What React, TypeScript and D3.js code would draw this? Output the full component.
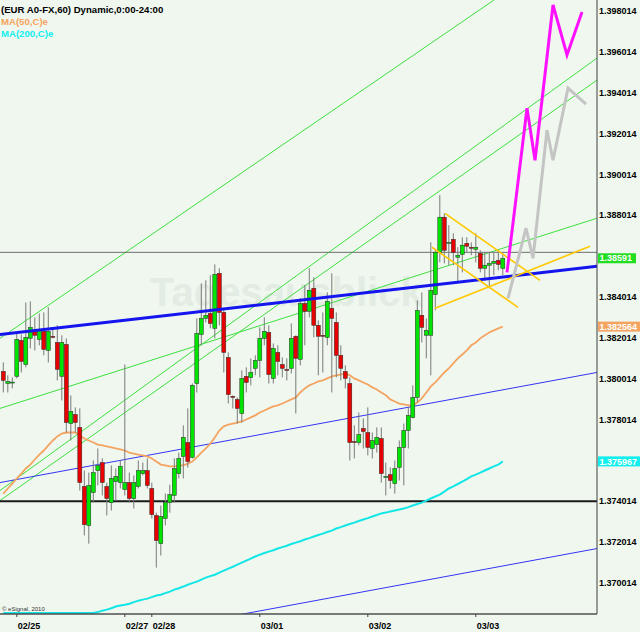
import React from 'react';
import * as d3 from 'd3';

// ---- data (EUR A0-FX, 60 min) ----
// [open, high, low, close]
const candles: [number, number, number, number][] = [
  [1.38037, 1.38081, 1.37934, 1.37993], [1.37978, 1.38018, 1.37934, 1.37988], [1.37983, 1.38008, 1.37954, 1.37985],
  [1.38013, 1.38223, 1.38003, 1.38194], [1.38189, 1.38218, 1.38032, 1.38086], [1.38071, 1.38375, 1.38057, 1.38204],
  [1.38199, 1.38380, 1.38150, 1.38253], [1.38238, 1.38302, 1.38140, 1.38214], [1.38194, 1.38321, 1.38165, 1.38243],
  [1.38233, 1.38326, 1.38116, 1.38145], [1.38140, 1.38351, 1.38081, 1.38233], [1.38209, 1.38253, 1.38199, 1.38204],
  [1.38179, 1.38263, 1.37993, 1.38047], [1.38013, 1.38214, 1.37895, 1.38179], [1.38169, 1.38199, 1.37738, 1.37787],
  [1.37782, 1.37920, 1.37699, 1.37841], [1.37826, 1.37861, 1.37738, 1.37787], [1.37763, 1.37856, 1.37454, 1.37493],
  [1.37474, 1.37552, 1.37234, 1.37287], [1.37283, 1.37542, 1.37194, 1.37479], [1.37444, 1.37601, 1.37395, 1.37542],
  [1.37552, 1.37660, 1.37479, 1.37577], [1.37591, 1.37611, 1.37430, 1.37493], [1.37474, 1.37493, 1.37332, 1.37415],
  [1.37395, 1.37577, 1.37356, 1.37513], [1.37498, 1.37562, 1.37405, 1.37523], [1.37493, 1.37601, 1.37464, 1.37572],
  [1.37459, 1.38071, 1.37430, 1.37493], [1.37493, 1.37542, 1.37395, 1.37415], [1.37415, 1.37528, 1.37366, 1.37493],
  [1.37474, 1.37601, 1.37464, 1.37552], [1.37537, 1.37591, 1.37528, 1.37552], [1.37552, 1.37611, 1.37464, 1.37479],
  [1.37464, 1.37493, 1.37317, 1.37336], [1.37332, 1.37346, 1.37077, 1.37209], [1.37194, 1.37381, 1.37136, 1.37327],
  [1.37317, 1.37439, 1.37283, 1.37395], [1.37395, 1.37483, 1.37346, 1.37434], [1.37430, 1.37611, 1.37395, 1.37562],
  [1.37537, 1.37640, 1.37513, 1.37611], [1.37621, 1.37773, 1.37513, 1.37714], [1.37689, 1.37856, 1.37567, 1.37596],
  [1.37616, 1.37978, 1.37611, 1.37969], [1.37978, 1.38297, 1.37934, 1.38223], [1.38218, 1.38468, 1.38165, 1.38297],
  [1.38297, 1.38483, 1.38277, 1.38312], [1.38321, 1.38508, 1.38248, 1.38272], [1.38248, 1.38561, 1.38199, 1.38512],
  [1.38517, 1.38542, 1.38263, 1.38326], [1.38326, 1.38346, 1.38032, 1.38130], [1.38106, 1.38130, 1.37880, 1.37924],
  [1.37915, 1.37920, 1.37856, 1.37910], [1.37900, 1.37910, 1.37782, 1.37856], [1.37831, 1.38042, 1.37787, 1.38003],
  [1.38013, 1.38057, 1.37934, 1.37983], [1.38008, 1.38101, 1.37969, 1.38032], [1.38052, 1.38116, 1.38018, 1.38091],
  [1.38091, 1.38253, 1.38008, 1.38199], [1.38199, 1.38302, 1.38165, 1.38233], [1.38228, 1.38263, 1.37978, 1.38022],
  [1.38003, 1.38174, 1.37978, 1.38150], [1.38130, 1.38165, 1.38018, 1.38086], [1.38071, 1.38106, 1.38008, 1.38052],
  [1.38047, 1.38101, 1.37993, 1.38042], [1.38052, 1.38272, 1.38027, 1.38199], [1.38209, 1.38214, 1.37831, 1.38101],
  [1.38096, 1.38395, 1.38067, 1.38370], [1.38370, 1.38459, 1.38165, 1.38331], [1.38331, 1.38542, 1.38302, 1.38434],
  [1.38444, 1.38498, 1.38204, 1.38263], [1.38263, 1.38287, 1.38018, 1.38209], [1.38214, 1.38326, 1.38032, 1.38209],
  [1.38204, 1.38424, 1.38165, 1.38380], [1.38346, 1.38517, 1.37934, 1.38297], [1.38277, 1.38326, 1.38008, 1.38116],
  [1.38116, 1.38165, 1.37993, 1.38052], [1.38037, 1.38067, 1.37954, 1.38003], [1.37978, 1.38008, 1.37601, 1.37689],
  [1.37694, 1.37773, 1.37611, 1.37689], [1.37689, 1.37836, 1.37675, 1.37728], [1.37758, 1.37807, 1.37660, 1.37743],
  [1.37738, 1.37861, 1.37626, 1.37665], [1.37660, 1.37738, 1.37611, 1.37699], [1.37679, 1.37763, 1.37640, 1.37714],
  [1.37709, 1.37763, 1.37493, 1.37537], [1.37518, 1.37591, 1.37430, 1.37523], [1.37532, 1.37567, 1.37464, 1.37503],
  [1.37488, 1.37601, 1.37439, 1.37562], [1.37567, 1.37699, 1.37503, 1.37665], [1.37665, 1.37782, 1.37479, 1.37748],
  [1.37748, 1.37861, 1.37660, 1.37822], [1.37812, 1.37969, 1.37807, 1.37910], [1.37910, 1.38385, 1.37885, 1.38336],
  [1.38312, 1.38424, 1.38179, 1.38253], [1.38214, 1.38297, 1.38101, 1.38238], [1.38214, 1.38669, 1.38018, 1.38434],
  [1.38414, 1.38630, 1.38336, 1.38620], [1.38620, 1.38900, 1.38571, 1.38792], [1.38792, 1.38811, 1.38566, 1.38630],
  [1.38664, 1.38753, 1.38557, 1.38669], [1.38684, 1.38713, 1.38557, 1.38620], [1.38596, 1.38645, 1.38468, 1.38606],
  [1.38610, 1.38694, 1.38522, 1.38655], [1.38664, 1.38694, 1.38620, 1.38650], [1.38645, 1.38669, 1.38606, 1.38640],
  [1.38635, 1.38713, 1.38571, 1.38645], [1.38615, 1.38630, 1.38522, 1.38542], [1.38542, 1.38620, 1.38483, 1.38557],
  [1.38557, 1.38620, 1.38444, 1.38566], [1.38566, 1.38620, 1.38508, 1.38576], [1.38581, 1.38630, 1.38532, 1.38561],
  [1.38542, 1.38615, 1.38508, 1.38591],
];

const ma50: number[] = [
  1.37439, 1.37464, 1.37488, 1.37513, 1.37537, 1.37562, 1.37581, 1.37606, 1.37630, 1.37650, 1.37675, 1.37699,
  1.37719, 1.37733, 1.37738, 1.37738, 1.37738, 1.37724, 1.37709, 1.37699, 1.37689, 1.37679, 1.37675, 1.37670,
  1.37665, 1.37660, 1.37655, 1.37650, 1.37640, 1.37635, 1.37630, 1.37626, 1.37621, 1.37611, 1.37596, 1.37581,
  1.37577, 1.37572, 1.37572, 1.37577, 1.37577, 1.37586, 1.37596, 1.37616, 1.37640, 1.37660, 1.37684, 1.37714,
  1.37748, 1.37768, 1.37777, 1.37782, 1.37787, 1.37792, 1.37802, 1.37812, 1.37822, 1.37836, 1.37846, 1.37856,
  1.37866, 1.37871, 1.37880, 1.37890, 1.37900, 1.37910, 1.37934, 1.37954, 1.37969, 1.37978, 1.37988, 1.37993,
  1.38003, 1.38013, 1.38018, 1.38022, 1.38027, 1.38018, 1.38003, 1.37993, 1.37983, 1.37973, 1.37959, 1.37949,
  1.37934, 1.37920, 1.37900, 1.37890, 1.37880, 1.37876, 1.37871, 1.37871, 1.37885, 1.37905, 1.37934, 1.37964,
  1.37983, 1.38008, 1.38032, 1.38052, 1.38076, 1.38101, 1.38120, 1.38140, 1.38165, 1.38179, 1.38199, 1.38214,
  1.38228, 1.38238, 1.38248, 1.38256,
];

const ma200: number[] = [
  1.36840, 1.36840, 1.36840, 1.36840, 1.36840, 1.36840, 1.36840, 1.36840, 1.36840, 1.36840, 1.36840, 1.36840,
  1.36840, 1.36840, 1.36840, 1.36840, 1.36840, 1.36840, 1.36840, 1.36846, 1.36851, 1.36859, 1.36866, 1.36871,
  1.36878, 1.36886, 1.36891, 1.36895, 1.36900, 1.36908, 1.36915, 1.36920, 1.36925, 1.36932, 1.36940, 1.36944,
  1.36952, 1.36959, 1.36969, 1.36976, 1.36984, 1.36993, 1.37001, 1.37008, 1.37018, 1.37028, 1.37035, 1.37042,
  1.37052, 1.37062, 1.37072, 1.37081, 1.37091, 1.37101, 1.37111, 1.37121, 1.37131, 1.37140, 1.37148, 1.37155,
  1.37162, 1.37170, 1.37177, 1.37184, 1.37192, 1.37199, 1.37206, 1.37214, 1.37221, 1.37229, 1.37236, 1.37243,
  1.37251, 1.37258, 1.37268, 1.37275, 1.37283, 1.37290, 1.37297, 1.37305, 1.37312, 1.37319, 1.37327, 1.37334,
  1.37342, 1.37346, 1.37351, 1.37356, 1.37361, 1.37366, 1.37373, 1.37381, 1.37388, 1.37395, 1.37405, 1.37415,
  1.37425, 1.37434, 1.37449, 1.37464, 1.37474, 1.37486, 1.37498, 1.37510, 1.37523, 1.37532, 1.37542, 1.37552,
  1.37562, 1.37572, 1.37581, 1.37597,
];

const priceTicks = [1.398014, 1.396014, 1.394014, 1.392014, 1.390014, 1.388014, 1.384014, 1.382014, 1.380014, 1.378014, 1.374014, 1.372014, 1.370014];
const dateLabels = ['02/25', '02/27', '02/28', '03/01', '03/02', '03/03'];
const dateTickIndex = [3, 27, 33, 57, 81, 105];

// trendlines: [startIndex, startPrice, endIndex, endPrice]
const blueThick: number[] = [-0.733, 1.38218, 131.93, 1.38552];
const blueThin: number[][] = [
  [-0.733, 1.37493, 131.93, 1.38032],
  [52.38, 1.36846, 131.93, 1.37170],
];
const greenLines: number[][] = [
  [-0.733, 1.38199, 109.04, 1.39855],
  [-0.733, 1.37856, 131.93, 1.38787],
  [-0.733, 1.37454, 131.93, 1.39571],
  [-0.733, 1.37405, 131.93, 1.39463],
];
const yellowLines: number[][] = [
  [98.16, 1.38811, 119.27, 1.38483],
  [95.27, 1.38645, 114.38, 1.38351],
  [95.93, 1.38346, 130.38, 1.38650],
];
const grayLevel = 1.38620;
const blackLevel = 1.374014;

// forecast paths: [index, price]
const magentaPath: [number, number][] = [
  [111.93, 1.38522], [116.38, 1.39326], [118.16, 1.39071], [122.16, 1.39831], [125.27, 1.39586], [128.6, 1.39796],
];
const grayPath: [number, number][] = [
  [112.16, 1.38395], [116.16, 1.38738], [117.71, 1.38591], [120.82, 1.39218], [122.16, 1.39071],
  [125.49, 1.39424], [129.49, 1.39345],
];

const lastPrice = { value: 1.38591, text: '1.38591', bg: '#22dd22' };
const ma50Last = { value: 1.382564, text: '1.382564', bg: '#f4a460' };
const ma200Last = { value: 1.375967, text: '1.375967', bg: '#11eeee' };

const W = 640, H = 632, PR = 597, PB = 614;
const FONT = '"Liberation Sans", Arial, sans-serif';

export default function App() {
  const x = d3.scaleLinear().domain([0, 111]).range([3.3, 502.8]);
  const y = d3.scaleLinear().domain([1.370014, 1.398014]).range([583, 11]);
  const seg = (l: number[]) => ({ x1: x(l[0]), y1: y(l[1]), x2: x(l[2]), y2: y(l[3]) });
  const path = d3.line<[number, number]>().x(d => x(d[0])).y(d => y(d[1]));
  const maLine = d3.line<number>().x((_, i) => x(i)).y(v => Math.min(y(v), PB - 1));

  const bg = '#eff7ef';

  return (
    <svg width={W} height={H} style={{ position: 'absolute', left: 0, top: 0 }} fontFamily={FONT}>
      <defs>
        <clipPath id="plot"><rect x={0} y={0} width={PR} height={PB} /></clipPath>
      </defs>
      <rect x={0} y={0} width={W} height={H} fill={bg} />
      <text x={150} y={306} fontSize={40} fontWeight="bold" fill="#e3ece3">Tagesausblick</text>
      <g clipPath="url(#plot)">
        {greenLines.map((l, i) => <line key={'g' + i} {...seg(l)} stroke="#3ee03e" strokeWidth={1} />)}
        {blueThin.map((l, i) => <line key={'b' + i} {...seg(l)} stroke="#3434f4" strokeWidth={1} />)}
        <line x1={0} x2={PR} y1={y(grayLevel)} y2={y(grayLevel)} stroke="#6e6e6e" strokeWidth={1} />
        <line x1={0} x2={PR} y1={y(blackLevel)} y2={y(blackLevel)} stroke="#1a1a1a" strokeWidth={2} />
        <path d={maLine(ma200) || ''} fill="none" stroke="#12e6e6" strokeWidth={2} />
        <path d={maLine(ma50) || ''} fill="none" stroke="#f4a460" strokeWidth={1.8} />
        {candles.map((c, i) => {
          const [o, h, l, cl] = c;
          const cx = x(i);
          const up = cl >= o;
          const top = y(Math.max(o, cl));
          const bot = y(Math.min(o, cl));
          return (
            <g key={'c' + i}>
              <line x1={cx} x2={cx} y1={y(h)} y2={y(l)} stroke="#7a7a7a" strokeWidth={1} />
              <rect x={cx - 2} y={top} width={4} height={Math.max(1, bot - top)}
                fill={up ? '#00e400' : '#e80000'} stroke="#2a2a2a" strokeWidth={0.5} />
            </g>
          );
        })}
        <line {...seg(blueThick)} stroke="#1414ee" strokeWidth={3} />
        {yellowLines.map((l, i) => <line key={'y' + i} {...seg(l)} stroke="#ffc800" strokeWidth={1.6} />)}
        <path d={path(grayPath) || ''} fill="none" stroke="#c4c4c4" strokeWidth={3} />
        <path d={path(magentaPath) || ''} fill="none" stroke="#ff10ff" strokeWidth={3} />
      </g>
      {/* frame */}
      <line x1={PR} x2={PR} y1={0} y2={PB} stroke="#404040" strokeWidth={1} />
      <line x1={0} x2={PR} y1={PB} y2={PB} stroke="#505050" strokeWidth={1.5} />
      {/* header */}
      <text x={1} y={13} fontSize={9.6} fontWeight="bold" fill="#000">(EUR A0-FX,60) Dynamic,0:00-24:00</text>
      <text x={1} y={25} fontSize={9.6} fontWeight="bold" fill="#f4a460">MA(50,C)e</text>
      <text x={1} y={37} fontSize={9.6} fontWeight="bold" fill="#11eeee">MA(200,C)e</text>
      <text x={2} y={611} fontSize={6} fill="#333">© eSignal, 2010</text>
      {/* price axis */}
      {priceTicks.map((p, i) => (
        <text key={'t' + i} x={599} y={y(p)} dy="0.35em" fontSize={9} fontWeight="bold" fill="#000">{p.toFixed(6)}</text>
      ))}
      {[lastPrice, ma50Last, ma200Last].map((m, i) => (
        <g key={'m' + i}>
          <rect x={598} y={y(m.value) - 5} width={i === 0 ? 38 : 42} height={10} fill={m.bg} />
          <text x={599.5} y={y(m.value)} dy="0.35em" fontSize={9} fontWeight="bold" fill="#fff">{m.text}</text>
        </g>
      ))}
      {/* date axis */}
      {dateTickIndex.map((d, i) => (
        <g key={'d' + i}>
          <line x1={x(d)} x2={x(d)} y1={PB} y2={PB + 3} stroke="#404040" />
          <text x={x(d) + 1} y={626} dy="0.35em" fontSize={9} fontWeight="bold" fill="#000">{dateLabels[i]}</text>
        </g>
      ))}
    </svg>
  );
}
